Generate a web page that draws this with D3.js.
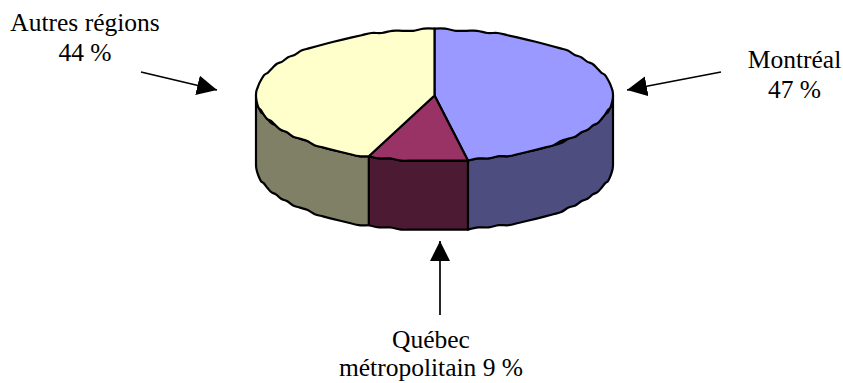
<!DOCTYPE html>
<html>
<head>
<meta charset="utf-8">
<script src="https://cdn.jsdelivr.net/npm/d3@7/dist/d3.min.js"></script>
<style>
html,body{margin:0;padding:0;background:#fff}
svg{display:block}
text{font-family:"Liberation Serif",serif;font-size:25.5px;fill:#000}
</style>
</head>
<body>
<svg id="chart" width="843" height="383"></svg>
<script>
const categories = ["Montréal", "Québec métropolitain", "Autres régions"];
const shares = [47, 9, 44];
const topColors = ["#9999ff", "#993366", "#ffffcc"];
const labelLines = [["Montréal", "47 %"], ["Québec", "métropolitain 9 %"], ["Autres régions", "44 %"]];
const labelAnchors = [[794.5, 68, 98], [431, 348, 376], [85, 31, 61]];
const arrowEnds = [[[721, 72], [627, 90]], [[440, 315], [440, 241]], [[141, 72], [217, 90]]];

const svg = d3.select("#chart");
const cx = 434.5, cy = 95.5, rx = 178.5, ry = 66, depth = 69;

// Tilted disc: pie angles projected onto an ellipse
const xAt = a => cx + rx * Math.sin(a);
const yAt = a => cy - ry * Math.cos(a);
const snap = (v, step) => Math.round(v / step) * step;
const arcAngles = (a0, a1) => {
  const n = Math.max(2, Math.round((a1 - a0) / 0.06));
  return d3.range(n + 1).map(i => a0 + (a1 - a0) * i / n);
};
// The rim is traced on a coarse grid, which gives it its scalloped edge
const rimPoint = (a, dy) => {
  const edge = Math.abs(Math.sin(a)) > 0.995;
  return [xAt(a), (edge ? yAt(a) : snap(yAt(a), 2.2)) + dy];
};
const rim = d3.line().curve(d3.curveCatmullRom.alpha(0.5));
const pie = d3.pie().sort(null).value(d => d)(shares);

const sides = svg.append("g");
pie.forEach((d, i) => {
  const a0 = Math.max(d.startAngle, Math.PI / 2);
  const a1 = Math.min(d.endAngle, 3 * Math.PI / 2);
  if (a1 <= a0) return;
  const angles = arcAngles(a0, a1);
  const lower = rim(angles.map(a => rimPoint(a, depth)));
  const upper = rim(angles.slice().reverse().map(a => rimPoint(a, 0)));
  const c = d3.rgb(topColors[i]);
  sides.append("path")
    .attr("d", lower + "L" + upper.slice(1) + "Z")
    .attr("fill", d3.rgb(c.r * 0.5, c.g * 0.5, c.b * 0.5))
    .attr("stroke", "#000").attr("stroke-width", 2.2).attr("stroke-linejoin", "round");
});

const tops = svg.append("g");
pie.forEach((d, i) => {
  const outer = rim(arcAngles(d.startAngle, d.endAngle).map(a => rimPoint(a, 0)));
  tops.append("path")
    .attr("d", `M${cx},${cy}L` + outer.slice(1) + "Z")
    .attr("fill", topColors[i])
    .attr("stroke", "#000").attr("stroke-width", 2.2).attr("stroke-linejoin", "round");
});

// Callout arrows
svg.append("defs").append("marker")
  .attr("id", "head").attr("viewBox", "0 0 20 20")
  .attr("refX", 20).attr("refY", 10)
  .attr("markerUnits", "userSpaceOnUse")
  .attr("markerWidth", 20).attr("markerHeight", 20)
  .attr("orient", "auto")
  .append("path").attr("d", "M0,0L20,10L0,20Z").attr("fill", "#000");

svg.append("g").selectAll("line").data(arrowEnds).join("line")
  .attr("x1", d => d[0][0]).attr("y1", d => d[0][1])
  .attr("x2", d => d[1][0]).attr("y2", d => d[1][1])
  .attr("stroke", "#000").attr("stroke-width", 1.7)
  .attr("marker-end", "url(#head)");

// Two-line labels
labelLines.forEach((lines, i) => {
  const [x, y0, y1] = labelAnchors[i];
  svg.append("text").attr("x", x).attr("y", y0).attr("text-anchor", "middle").text(lines[0]);
  svg.append("text").attr("x", x).attr("y", y1).attr("text-anchor", "middle").text(lines[1]);
});
</script>
</body>
</html>
